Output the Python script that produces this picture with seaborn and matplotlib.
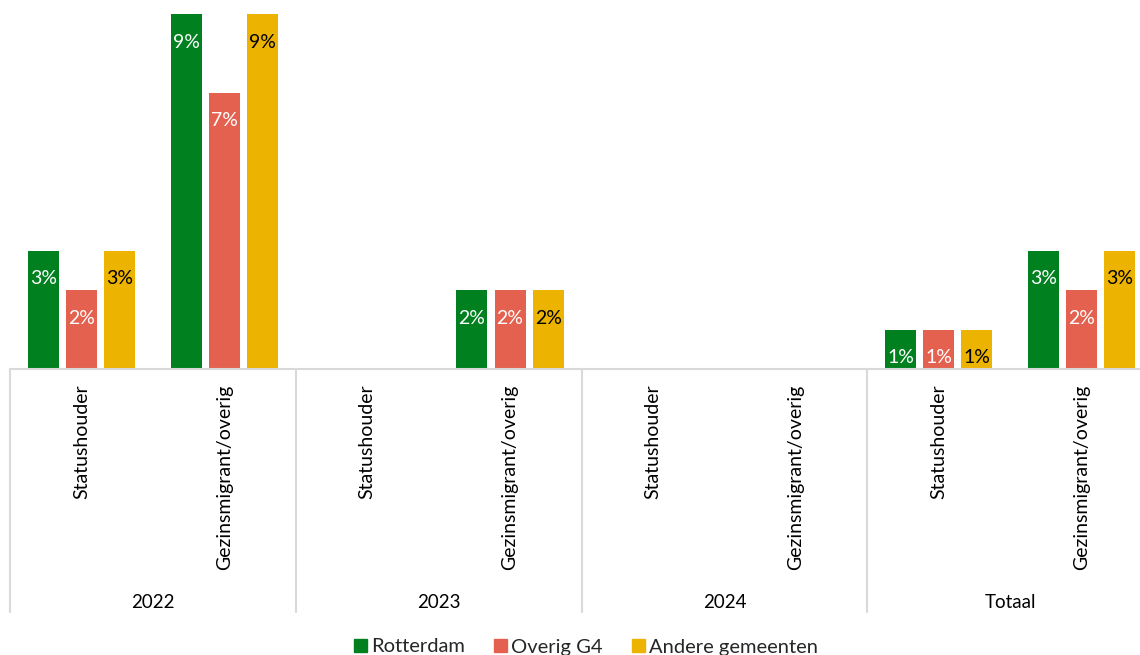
import numpy as np
import pandas as pd
import matplotlib
matplotlib.use("Agg")
import matplotlib.pyplot as plt
import matplotlib.transforms as mtransforms
import seaborn as sns

# Data: share (%) per year and migrant type
years = ["2022", "2023", "2024", "Totaal"]
types = ["Statushouder", "Gezinsmigrant/overig"]
series = ["Rotterdam", "Overig G4", "Andere gemeenten"]
rotterdam = [3, 9, np.nan, 2, np.nan, np.nan, 1, 3]
overig_g4 = [2, 7, np.nan, 2, np.nan, np.nan, 1, 2]
andere = [3, 9, np.nan, 2, np.nan, np.nan, 1, 3]

colors = ["#00801F", "#E46150", "#ECB300"]
label_colors = ["white", "white", "black"]

slots = [f"{y}|{t}" for y in years for t in types]
rows = []
for name, vals in zip(series, [rotterdam, overig_g4, andere]):
    for slot, v in zip(slots, vals):
        rows.append({"slot": slot, "reeks": name, "waarde": v})
df = pd.DataFrame(rows)

sns.set_theme(style="white")
plt.rcParams["font.family"] = ["Lato", "DejaVu Sans"]

W, H = 1140, 655
fig = plt.figure(figsize=(W / 100, H / 100), dpi=100)
x0, x1 = 10, 1153
y_top, y_base = 14, 369
ax = fig.add_axes([x0 / W, 1 - y_base / H, (x1 - x0) / W, (y_base - y_top) / H])

sns.barplot(data=df, x="slot", y="waarde", hue="reeks", order=slots,
            hue_order=series, palette=colors, width=0.8, ax=ax,
            saturation=1, legend=False, errorbar=None)

bar_w = 31 / 143
for ci, cont in enumerate(ax.containers):
    for patch in cont.patches:
        cx = patch.get_x() + patch.get_width() / 2
        patch.set_width(bar_w)
        patch.set_x(cx - bar_w / 2)
        patch.set_edgecolor("none")
        h = patch.get_height()
        if np.isnan(h) or h <= 0:
            continue
        ax.annotate(f"{h:.0f}%", (cx, h), xytext=(0, -28),
                    textcoords="offset pixels", ha="center", va="center",
                    fontsize=14, color=label_colors[ci])

ax.set_xlim(-0.5, len(slots) - 0.5)
ax.set_ylim(0, 9)
ax.set_yticks([])
ax.set_ylabel("")
ax.set_xlabel("")
for s in ["top", "right", "left"]:
    ax.spines[s].set_visible(False)
ax.spines["bottom"].set_color("#d9d9d9")
ax.spines["bottom"].set_linewidth(1.5)

ax.set_xticks(range(len(slots)))
ax.set_xticklabels([t for y in years for t in types], rotation=90,
                   fontsize=14, color="black")
ax.tick_params(axis="x", length=0, pad=11)

# group separators and year labels
trans = mtransforms.blended_transform_factory(ax.transData, ax.transAxes)
sep_bottom = (y_base - 612) / (y_base - y_top)
for xs in [-0.5, 1.5, 3.5, 5.5, 7.5]:
    ax.plot([xs, xs], [0, sep_bottom], color="#d9d9d9", lw=1.5,
            transform=trans, clip_on=False)
year_y = (y_base - 602) / (y_base - y_top)
for i, y in enumerate(years):
    ax.text(2 * i + 0.5, year_y, y, transform=trans, ha="center",
            va="center", fontsize=13.5, color="black")

handles = [plt.Rectangle((0, 0), 1, 1, color=c) for c in colors]
fig.legend(handles, series, loc="center", ncol=3,
           bbox_to_anchor=(586 / W, 1 - 647 / H), frameon=False,
           fontsize=14.5, handlelength=0.65, handleheight=0.65,
           handletextpad=0.2, columnspacing=1.45)

fig.savefig("out.png", dpi=100)
